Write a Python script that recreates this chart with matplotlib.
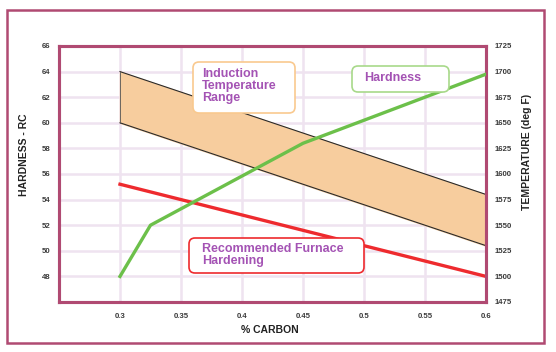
import matplotlib.pyplot as plt
from matplotlib.patches import FancyBboxPatch, Rectangle

plt.rcParams['font.family'] = ['Liberation Sans', 'DejaVu Sans']

# data
carbon_hard = [0.3, 0.325, 0.45, 0.6]
hardness = [48, 52, 58.4, 63.8]

carbon_furnace = [0.3, 0.6]
furnace_temp = [1590, 1500]

carbon_band = [0.3, 0.6]
induction_low = [1650, 1530]
induction_high = [1700, 1580]

x_ticks = [0.3, 0.35, 0.4, 0.45, 0.5, 0.55, 0.6]
x_labels = ['0.3', '0.35', '0.4', '0.45', '0.5', '0.55', '0.6']
hard_ticks = [48, 50, 52, 54, 56, 58, 60, 62, 64, 66]
temp_ticks = [1475, 1500, 1525, 1550, 1575, 1600, 1625, 1650, 1675, 1700, 1725]

frame = '#b04a72'
grid = '#efe3f0'
purple = '#a453b4'
tick_col = '#3a3a3a'

fig = plt.figure(figsize=(5.56, 3.52), dpi=100)
ax = fig.add_axes([59 / 556, 1 - 302 / 352, 427 / 556, 256 / 352])
ax2 = ax.twinx()
ax.set_zorder(ax2.get_zorder() + 1)
ax.patch.set_visible(False)

# band + furnace line on temperature axis
ax2.fill_between(carbon_band, induction_low, induction_high, color='#f7cd9e', zorder=2)
ax2.plot(carbon_band, induction_low, color='#2a2a2a', lw=0.8, zorder=3)
ax2.plot(carbon_band, induction_high, color='#2a2a2a', lw=0.8, zorder=3)
for cx, lo, hi in zip(carbon_band, induction_low, induction_high):
    ax2.plot([cx, cx], [lo, hi], color='#555555', lw=0.6, zorder=3)
ax2.plot(carbon_furnace, furnace_temp, color='#ee2a2e', lw=2.4, zorder=4)

# hardness on left axis
ax.plot(carbon_hard, hardness, color='#6cc04a', lw=2.4, zorder=5)

ax.set_xlim(0.25, 0.6)
ax.set_ylim(46, 66)
ax2.set_ylim(1475, 1725)
ax.set_xticks(x_ticks)
ax.set_xticklabels(x_labels)
ax.set_yticks(hard_ticks)
ax2.set_yticks(temp_ticks)

ax2.grid(True, color=grid, lw=1.8, zorder=0)
ax2.set_axisbelow(True)
for xt in x_ticks:
    ax2.axvline(xt, color=grid, lw=1.8, zorder=0)

for a in (ax, ax2):
    a.tick_params(length=0, labelsize=5.6, colors=tick_col, pad=6)
    for lab in a.get_xticklabels() + a.get_yticklabels():
        lab.set_fontweight('bold')
    for s in a.spines.values():
        s.set_color(frame)
        s.set_linewidth(2.2)
ax.tick_params(axis='x', pad=8)

fig.text(24 / 556, 1 - 155 / 352, 'HARDNESS - RC', rotation=90, ha='center', va='center',
         fontsize=7.5, fontweight='bold', color='#222222')
fig.text(527 / 556, 1 - 152 / 352, 'TEMPERATURE (deg F)', rotation=90, ha='center', va='center',
         fontsize=7.5, fontweight='bold', color='#222222')
fig.text(270 / 556, 1 - 330 / 352, '% CARBON', ha='center', va='center',
         fontsize=7.5, fontweight='bold', color='#222222')

# outer frame
fig.add_artist(Rectangle((7 / 556, 1 - 343 / 352), 537 / 556, 333 / 352,
                         transform=fig.transFigure, fill=False, ec=frame, lw=1.8))


def label_box(x0, y0, x1, y1, edge, text, tx, ty):
    box = FancyBboxPatch((x0 / 100, (352 - y1) / 100), (x1 - x0) / 100, (y1 - y0) / 100,
                         boxstyle='round,pad=0,rounding_size=0.06',
                         transform=fig.dpi_scale_trans, fc='white', ec=edge, lw=1.2, zorder=10)
    fig.add_artist(box)
    fig.text(tx / 556, 1 - ty / 352, text, ha='left', va='top', fontsize=9,
             fontweight='bold', color=purple, linespacing=1.02, zorder=11)


label_box(193, 62, 295, 113, '#f9c98f', 'Induction\nTemperature\nRange', 202, 68)
label_box(352, 66, 449, 92, '#a8d98a', 'Hardness', 364, 72)
label_box(189, 238, 364, 273, '#ee2a2e', 'Recommended Furnace\nHardening', 202, 243)

fig.savefig('out.png', dpi=100)
